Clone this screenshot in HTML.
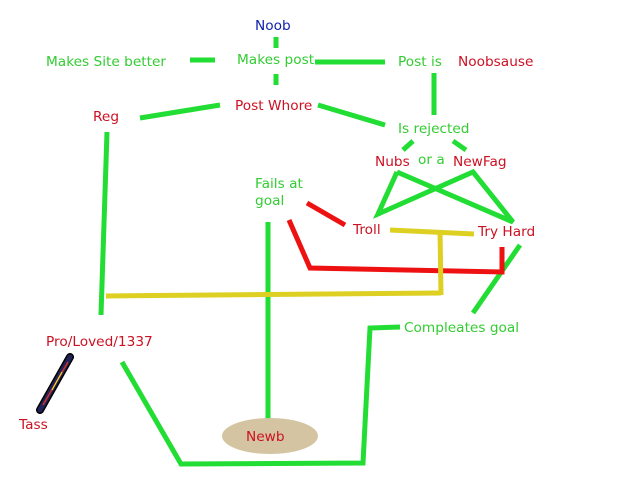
<!DOCTYPE html>
<html><head><meta charset="utf-8"><style>
html,body{margin:0;padding:0;background:#fff}
svg{display:block}
text{font-family:"DejaVu Sans","Liberation Sans",sans-serif;font-size:13.7px}
.g{fill:#33cc33}.r{fill:#cc1122}.b{fill:#1122aa}
</style></head><body>
<svg width="640" height="480" viewBox="0 0 640 480" xmlns="http://www.w3.org/2000/svg">
<defs><linearGradient id="tg" x1="0" y1="0" x2="1" y2="0">
<stop offset="0" stop-color="#1a1a55"/><stop offset="0.4" stop-color="#cc3322"/><stop offset="0.5" stop-color="#eecc22"/><stop offset="0.6" stop-color="#cc3322"/><stop offset="1" stop-color="#1a1a55"/></linearGradient></defs>
<g stroke="#22dd33" stroke-width="5" fill="none" stroke-linejoin="miter">
<line x1="276" y1="37" x2="276" y2="48"/>
<line x1="190" y1="60" x2="215" y2="60"/>
<line x1="315" y1="62" x2="385" y2="62"/>
<line x1="276" y1="74" x2="276" y2="85"/>
<line x1="434" y1="73" x2="434" y2="115"/>
<line x1="140" y1="118" x2="220" y2="105"/>
<line x1="318" y1="105" x2="385" y2="125"/>
<line x1="413" y1="141" x2="403" y2="150"/>
<line x1="453" y1="141" x2="466" y2="150"/>
<polyline points="397,172 378,214 473,172 513,222 397,172"/>
<line x1="107" y1="132" x2="101" y2="315"/>
<line x1="268" y1="222" x2="268" y2="427"/>
<line x1="520" y1="245" x2="473" y2="313"/>
<polyline points="400,327 370,328 363,463 181,464 122,362"/>
</g>
<g stroke="#ee1111" stroke-width="5" fill="none">
<line x1="307" y1="203" x2="345" y2="225"/>
<polyline points="289,220 310,268 502,272 502,247"/>
</g>
<g stroke="#ddd022" stroke-width="5" fill="none">
<line x1="390" y1="230" x2="474" y2="234"/>
<line x1="440" y1="230" x2="441" y2="295"/>
<line x1="106" y1="296" x2="441" y2="293"/>
</g>
<line x1="70" y1="357" x2="40" y2="410" stroke="#000" stroke-width="8" stroke-linecap="round"/>
<line x1="70" y1="357" x2="40" y2="410" stroke="#22225a" stroke-width="5" stroke-linecap="round"/>
<line x1="68" y1="362" x2="43" y2="405" stroke="#cc3322" stroke-width="1.5"/>
<line x1="62" y1="372" x2="52" y2="390" stroke="#eedd22" stroke-width="1.2"/>
<ellipse cx="270" cy="436" rx="48" ry="18" fill="#d4c4a2"/>
<text x="255" y="30" class="b">Noob</text>
<text x="46" y="66" class="g">Makes Site better</text>
<text x="237" y="64" class="g">Makes post</text>
<text x="398" y="66" class="g">Post is</text>
<text x="458" y="66" class="r">Noobsause</text>
<text x="93" y="121" class="r">Reg</text>
<text x="235" y="110" class="r">Post Whore</text>
<text x="398" y="133" class="g">Is rejected</text>
<text x="375" y="166" class="r">Nubs</text>
<text x="418" y="164" class="g">or a</text>
<text x="453" y="166" class="r">NewFag</text>
<text x="255" y="188" class="g">Fails at</text>
<text x="255" y="205" class="g">goal</text>
<text x="353" y="234" class="r">Troll</text>
<text x="478" y="236" class="r">Try Hard</text>
<text x="404" y="332" class="g">Compleates goal</text>
<text x="46" y="346" class="r">Pro/Loved/1337</text>
<text x="19" y="429" class="r">Tass</text>
<text x="246" y="441" class="r">Newb</text>
</svg>
</body></html>
